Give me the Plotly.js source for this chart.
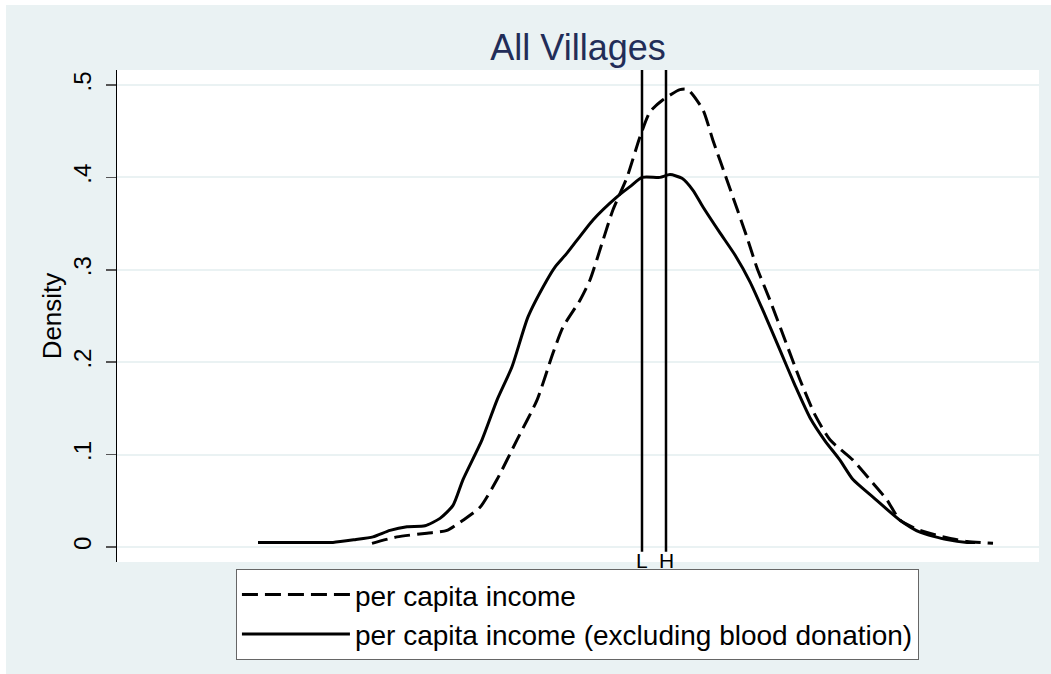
<!DOCTYPE html>
<html>
<head>
<meta charset="utf-8">
<script src="https://cdn.plot.ly/plotly-3.0.1.min.js"></script>
<style>
  html, body { margin: 0; padding: 0; background: #ffffff; }
  #chart { position: absolute; left: 6px; top: 5px; width: 1045px; height: 669px; }
</style>
</head>
<body>
<div id="chart"></div>
<script>
// Kernel density estimates (x in arbitrary log-income units)
const incomeX = [4.55, 4.80, 5.10, 5.30, 5.46, 5.63, 5.80, 6.00, 6.20, 6.36, 6.46, 6.63, 6.73, 6.86, 6.96, 7.10, 7.23, 7.33, 7.46, 7.63, 7.71, 7.86, 7.96, 8.10, 8.30, 8.40, 8.53, 8.68, 8.83, 8.98, 9.13, 9.36, 9.56, 9.70, 9.83, 10.03, 10.30, 10.50, 10.76];
const incomeDensity = [0.004, 0.011, 0.015, 0.018, 0.029, 0.043, 0.073, 0.116, 0.159, 0.210, 0.238, 0.267, 0.289, 0.332, 0.365, 0.400, 0.444, 0.471, 0.484, 0.495, 0.495, 0.473, 0.440, 0.397, 0.335, 0.302, 0.267, 0.224, 0.181, 0.143, 0.116, 0.094, 0.069, 0.051, 0.029, 0.018, 0.010, 0.006, 0.004];

const exclX = [3.41, 3.83, 4.16, 4.38, 4.56, 4.73, 4.90, 5.08, 5.23, 5.36, 5.46, 5.65, 5.80, 5.95, 6.11, 6.30, 6.38, 6.50, 6.76, 7.00, 7.13, 7.25, 7.43, 7.53, 7.65, 7.76, 7.86, 8.03, 8.18, 8.33, 8.48, 8.63, 8.78, 8.93, 9.08, 9.23, 9.36, 9.56, 9.83, 10.03, 10.30, 10.50, 10.58];
const exclDensity = [0.005, 0.005, 0.005, 0.008, 0.011, 0.018, 0.022, 0.023, 0.031, 0.045, 0.073, 0.116, 0.159, 0.195, 0.249, 0.289, 0.303, 0.318, 0.354, 0.379, 0.390, 0.400, 0.400, 0.403, 0.399, 0.386, 0.368, 0.340, 0.316, 0.287, 0.251, 0.213, 0.175, 0.140, 0.115, 0.094, 0.073, 0.054, 0.029, 0.016, 0.008, 0.005, 0.005];

const markerLabels = ["L", "H"];
const markerX = [7.25, 7.49];

const yTickVals = [0, 0.1, 0.2, 0.3, 0.4, 0.5];
const yTickText = ["0", ".1", ".2", ".3", ".4", ".5"];

const seriesNames = ["per capita income", "per capita income (excluding blood donation)"];

const FONT = "Liberation Sans, Arial, Helvetica, sans-serif";
const BG = "#eaf2f3";

const traces = [
  {
    x: incomeX, y: incomeDensity, type: "scatter", mode: "lines",
    name: seriesNames[0],
    line: { color: "#000000", width: 3, dash: "16px,7px", shape: "spline", smoothing: 0.6 }
  },
  {
    x: exclX, y: exclDensity, type: "scatter", mode: "lines",
    name: seriesNames[1],
    line: { color: "#000000", width: 3, shape: "spline", smoothing: 0.6 }
  }
];

const shapes = markerX.map(v => ({
  type: "line", xref: "x", yref: "paper",
  x0: v, x1: v, y0: 0.021, y1: 1,
  line: { color: "#000000", width: 2.5 }
}));

const annotations = markerX.map((v, i) => ({
  x: v, xref: "x", y: 0.004, yref: "paper",
  text: markerLabels[i], showarrow: false,
  xanchor: "center", yanchor: "middle",
  font: { family: FONT, size: 21, color: "#000000" }
}));

const layout = {
  width: 1045, height: 669,
  paper_bgcolor: BG, plot_bgcolor: "#ffffff",
  margin: { l: 111, r: 12, t: 65, b: 112 },
  font: { family: FONT, color: "#000000" },
  title: {
    text: "All Villages",
    font: { family: FONT, size: 36, color: "#222d58" },
    xref: "paper", x: 0.5, xanchor: "center",
    yref: "container", y: 0.936, yanchor: "middle"
  },
  xaxis: {
    range: [2.0, 11.22],
    showgrid: false, zeroline: false, showline: false,
    showticklabels: false, ticks: ""
  },
  yaxis: {
    range: [-0.0162, 0.5162],
    tickvals: yTickVals, ticktext: yTickText,
    tickangle: -90,
    ticks: "outside", ticklen: 10, tickwidth: 1.5, tickcolor: "#555555",
    tickfont: { family: FONT, size: 24, color: "#000000" },
    ticklabelstandoff: 5,
    showline: true, linecolor: "#000000", linewidth: 1.5,
    showgrid: true, gridcolor: BG, gridwidth: 2,
    zeroline: false,
    title: { text: "Density", font: { family: FONT, size: 26, color: "#000000" }, standoff: 0 }
  },
  showlegend: true,
  legend: {
    x: 0.129, xanchor: "left", xref: "paper",
    y: -0.014, yanchor: "top", yref: "paper",
    bgcolor: "#ffffff", bordercolor: "#666666", borderwidth: 1,
    font: { family: FONT, size: 28, color: "#000000" },
    itemwidth: 108,
    traceorder: "normal"
  },
  shapes: shapes,
  annotations: annotations
};

Plotly.newPlot("chart", traces, layout, { displayModeBar: false, staticPlot: true });
</script>
</body>
</html>
